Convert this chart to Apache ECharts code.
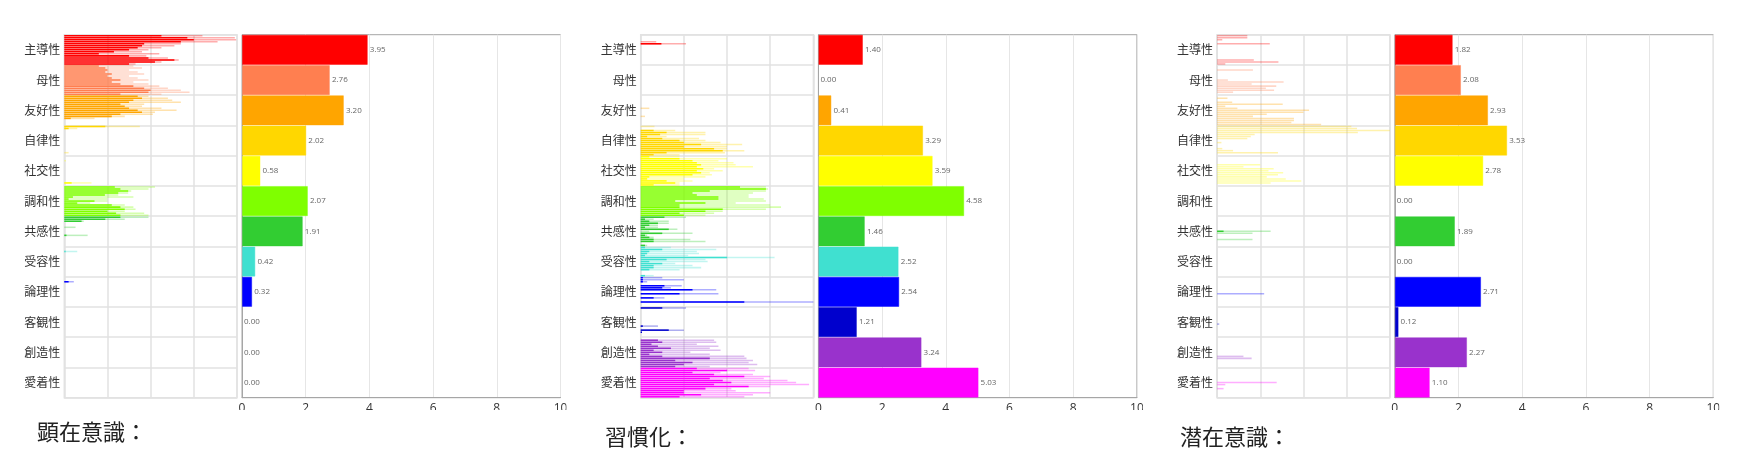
<!DOCTYPE html>
<html>
<head>
<meta charset="utf-8">
<script src="https://cdn.jsdelivr.net/npm/echarts@6/dist/echarts.min.js"></script>
<style>
html,body{margin:0;padding:0;background:#fff;}
#chart{width:1752px;height:461px;}
</style>
</head>
<body>
<div id="chart"></div>
<script>
const categories = ['主導性','母性','友好性','自律性','社交性','調和性','共感性','受容性','論理性','客観性','創造性','愛着性'];
const panelTitles = ['顕在意識：','習慣化：','潜在意識：'];
const catColors = ['#FF0000','#FF7F50','#FFA500','#FFD700','#FFFF00','#7FFF00','#32CD32','#40E0D0','#0000FF','#0000CD','#9932CC','#FF00FF'];

// main bar values per panel
const scores1 = [3.95, 2.76, 3.20, 2.02, 0.58, 2.07, 1.91, 0.42, 0.32, 0.00, 0.00, 0.00];
const scores2 = [1.40, 0.00, 0.41, 3.29, 3.59, 4.58, 1.46, 2.52, 2.54, 1.21, 3.24, 5.03];
const scores3 = [1.82, 2.08, 2.93, 3.53, 2.78, 0.00, 1.89, 0.00, 2.71, 0.12, 2.27, 1.10];

// distribution strips: 15 rows per category, solid and light lengths
const strip1Solid = [
  [2.25,2.85,3.0,2.7,1.85,1.8,1.7,1.5,1.15,0.8,1.5,1.95,2.55,2.1,1.5],
  [0.8,0.95,1.0,0.95,1.1,1.0,1.1,1.3,1.1,1.3,1.6,1.85,2.0,1.95,1.3],
  [1.7,1.8,1.6,1.5,1.3,1.4,1.5,1.7,1.8,1.3,1.1,0.15,0,0,0],
  [0.95,0.1,0,0,0,0,0,0,0,0,0,0,0,0,0],
  [0,0,0,0,0,0,0,0,0,0,0,0,0,0.17,0],
  [1.17,1.3,1.48,1.25,0.94,0.2,0.1,0.7,0.3,1.1,1.3,1.4,1.0,1.2,1.3],
  [1.3,0.95,0.4,0,0,0,0,0,0,0.05,0,0,0,0,0],
  [0,0,0.03,0,0,0,0,0,0,0,0,0,0,0,0],
  [0,0,0.1,0,0,0,0,0,0,0,0,0,0,0,0],
  [0,0,0,0,0,0,0,0,0,0,0,0,0,0,0],
  [0,0,0,0,0,0,0,0,0,0,0,0,0,0,0],
  [0,0,0,0,0,0,0,0,0,0,0,0,0,0,0]
];
const strip1Light = [
  [3.2,3.95,3.98,3.55,2.7,2.55,2.25,1.95,1.8,2.2,1.9,2.4,2.65,2.25,1.65],
  [1.6,1.8,1.5,1.7,1.85,1.5,1.7,1.95,1.6,1.95,2.2,2.4,2.7,2.9,2.25],
  [1.95,2.4,2.5,2.7,1.85,1.8,2.25,2.6,2.1,2.05,1.4,0.7,0,0,0],
  [1.75,0.3,0,0,0,0,0,0,0,0,0,0,0,0.1,0],
  [0,0,0.04,0,0,0,0,0,0,0,0,0,0,0.63,0],
  [2.1,1.95,1.55,1.48,1.25,1.6,1.0,1.0,0.6,1.4,1.6,1.65,1.4,1.85,1.95],
  [1.95,1.4,0.45,0,0,0.26,0,0,0,0.54,0,0,0,0,0],
  [0,0,0.3,0,0,0,0,0,0,0,0,0,0,0,0],
  [0,0,0.22,0,0,0,0,0,0,0,0,0,0,0,0],
  [0,0,0,0,0,0,0,0,0,0,0,0,0,0,0],
  [0,0,0,0,0,0,0,0,0,0,0,0,0,0,0],
  [0,0,0,0,0,0,0,0,0,0,0,0,0,0,0]
];
const strip2Solid = [
  [0,0,0,0,0.48,0,0,0,0,0,0,0,0,0,0],
  [0,0,0,0,0,0,0,0,0,0,0,0,0,0,0],
  [0,0,0,0,0,0,0,0,0,0,0,0,0,0,0],
  [0,0,0.3,0.6,0.45,0.15,0.5,0.9,1.0,1.4,1.0,1.7,1.9,0.6,0.3],
  [0.2,0.9,1.2,1.3,1.4,1.3,1.45,1.3,1.4,1.2,0.2,0.15,0.6,0.8,0.3],
  [2.3,2.9,1.6,1.2,1.3,1.8,1.8,0.8,1.5,0.9,0.9,1.9,1.5,0.9,1.0],
  [0.55,0.1,0.2,0.4,0.2,0.1,0.65,0,0.5,0.1,0.2,0.3,0.3,0,0.1],
  [0.1,0.5,0.2,0.15,0.1,2.0,0.6,0.2,0.5,0.3,0.3,0.2,0,0,0.1],
  [0.05,0.05,0.05,0,0.55,0.5,1.2,0,0.9,0,0.3,0,2.4,0,0],
  [0.5,0,0,0,0,0,0,0,0,0.05,0,0.65,0.03,0,0],
  [0,0.4,0.5,0.25,0.4,0.7,0.3,0.5,0.2,0.5,1.6,0.8,1.2,1.0,0.8],
  [1.3,2.0,1.2,1.7,2.4,1.6,1.9,2.1,1.7,2.5,1.5,1.0,1.0,1.4,0.9]
];
const strip2Light = [
  [0,0,0,0.36,1.05,0,0,0,0,0,0,0,0,0,0],
  [0,0,0,0,0,0,0,0,0,0,0,0,0,0,0],
  [0,0,0,0,0,0,0.2,0,0,0,0.1,0,0,0,0],
  [0.32,0,0.8,1.5,1.5,0.6,1.35,1.5,1.85,2.35,2.0,2.0,2.4,1.95,0.9],
  [0.9,2.0,1.8,2.15,2.2,2.6,1.7,1.9,1.6,1.65,1.5,1.0,1.2,0.9,0.9],
  [2.9,2.95,2.9,2.6,2.5,2.5,2.85,2.9,2.2,3.0,3.25,2.9,1.9,1.7,1.5],
  [1.05,0.3,0.65,0.65,0.4,0.4,0.85,0.2,1.2,0.15,0.3,1.15,1.5,0,0.15],
  [0.7,1.75,1.3,1.35,1.1,3.1,1.5,1.55,0.8,1.2,1.4,0.9,0,0,0.3],
  [0.5,1.0,0.15,0,0.95,0.7,1.75,0,1.8,0,0.55,0,4.0,0,0],
  [1.05,0,0,0,0,0,0,0,0,0.4,0,1.0,0.03,0,0],
  [0,1.7,1.75,1.3,1.8,1.6,1.85,1.15,1.6,2.4,2.45,2.6,2.5,2.7,1.6],
  [2.5,2.65,1.85,2.6,3.0,2.85,3.4,3.6,3.9,3.0,2.1,2.2,3.0,2.6,2.4]
];
const strip3Solid = [
  [0,0,0,0,0,0,0,0,0,0,0,0,0,0,0],
  [0,0,0,0,0,0,0,0,0,0,0,0,0,0,0],
  [0,0,0,0,0,0,0,0,0,0,0,0,0,0,0],
  [0,0,0,0,0,0,0,0,0,0,0,0,0,0,0],
  [0,0,0,0,0,0,0,0,0,0,0,0,0,0,0],
  [0,0,0,0,0,0,0,0,0,0,0,0,0,0,0],
  [0,0,0,0,0,0,0,0.15,0,0,0,0,0,0,0],
  [0,0,0,0,0,0,0,0,0,0,0,0,0,0,0],
  [0,0,0,0,0,0,0,0,0,0,0,0,0,0,0],
  [0,0,0,0,0,0,0,0,0,0,0,0,0,0,0],
  [0,0,0,0,0,0,0,0,0,0,0,0,0,0,0],
  [0,0,0,0,0,0,0,0,0,0,0,0,0,0,0]
];
const strip3Light = [
  [0.7,0.7,0.12,0,1.22,0,0,0,0,0,0,0,0.85,1.42,0.19],
  [0,0,0.83,0,0,0,0,0.25,1.54,0.8,1.37,1.13,1.32,0.37,0],
  [0,0.24,0,0.35,1.52,0.19,0.47,2.13,2.0,1.15,0.83,1.78,1.78,1.72,2.41],
  [3.11,3.24,4.0,3.26,0.87,0.78,0.7,0,0.1,0,0,0.12,0.37,1.41,0],
  [0,0,0,0,1.0,0.61,1.31,1.19,1.53,1.41,1.15,1.59,1.95,1.24,0],
  [0,0,0,0,0,0,0,0,0,0,0,0,0,0,0],
  [0,0,0,0,0,0,0,1.24,0.82,0,0,0.82,0,0,0],
  [0,0,0,0,0,0,0,0,0,0,0,0,0,0,0],
  [0,0,0,0,0,0,0,0,1.09,0,0,0,0,0,0],
  [0,0,0,0,0,0,0,0,0.05,0,0,0,0,0,0],
  [0,0,0,0,0,0,0,0,0,0.61,0.8,0,0,0,0],
  [0,0,0,0,0,0,0,1.38,0.19,0,0.15,0,0,0,0]
];

const panels = [
  {title: panelTitles[0], scores: scores1, solid: strip1Solid, light: strip1Light, titleTop: 416},
  {title: panelTitles[1], scores: scores2, solid: strip2Solid, light: strip2Light, titleTop: 421},
  {title: panelTitles[2], scores: scores3, solid: strip3Solid, light: strip3Light, titleTop: 421}
];
const titleLeft = [32, 600, 1175];

function rgba(hex, a) {
  const n = parseInt(hex.slice(1), 16);
  return 'rgba(' + ((n >> 16) & 255) + ',' + ((n >> 8) & 255) + ',' + (n & 255) + ',' + a + ')';
}

const ROWS = 15;
const rowIds = [];
categories.forEach((c, ci) => { for (let r = 0; r < ROWS; r++) rowIds.push(c + '_' + r); });

const PANEL_DX = 576.4, TOP = 34.7, H = 363;
const MINI_LEFT = 64.3, MINI_W = 172.7, BAR_LEFT = 242, BAR_W = 318.5;

const option = {
  animation: false,
  textStyle: {fontFamily: '"Noto Sans CJK JP", "Noto Sans", sans-serif'},
  title: [], grid: [], xAxis: [], yAxis: [], series: [], graphic: []
};

panels.forEach((p, k) => {
  const dx = k * PANEL_DX;
  option.title.push({
    text: p.title, left: titleLeft[k], top: p.titleTop,
    textStyle: {fontSize: 22, fontWeight: 'normal', color: '#222', fontFamily: '"Noto Sans CJK JP", sans-serif'}
  });
  option.grid.push({left: MINI_LEFT + dx, top: TOP, width: MINI_W, height: H, show: true, borderColor: '#e2e2e2', borderWidth: 1.5});
  option.grid.push({left: BAR_LEFT + dx, top: TOP, width: BAR_W, height: H, show: true, borderColor: '#a6a6a6', borderWidth: 1});

  option.xAxis.push({
    gridIndex: 2 * k, type: 'value', min: 0, max: 4, interval: 1,
    axisLabel: {show: false}, axisLine: {show: false}, axisTick: {show: false},
    splitLine: {show: true, lineStyle: {color: '#e2e2e2', width: 1.5}}
  });
  option.xAxis.push({
    gridIndex: 2 * k + 1, type: 'value', min: 0, max: 10, interval: 2,
    axisLine: {show: true, lineStyle: {color: '#a6a6a6'}}, axisTick: {show: false},
    axisLabel: {fontSize: 12, color: '#333', margin: 5, fontFamily: '"Open Sans", sans-serif'},
    splitLine: {show: true, lineStyle: {color: '#e6e6e6'}}
  });

  option.yAxis.push({
    gridIndex: 2 * k, type: 'category', data: categories, inverse: true,
    axisLine: {show: false}, axisTick: {show: false},
    axisLabel: {fontSize: 12, color: '#333', margin: 4, interval: 0},
    splitLine: {show: true, interval: 0, lineStyle: {color: '#e2e2e2', width: 1.5}}
  });
  option.yAxis.push({gridIndex: 2 * k, type: 'category', data: rowIds, inverse: true, show: false});
  option.yAxis.push({
    gridIndex: 2 * k + 1, type: 'category', data: categories, inverse: true,
    axisLabel: {show: false}, axisTick: {show: false},
    axisLine: {show: true, lineStyle: {color: '#a6a6a6'}}, splitLine: {show: false}
  });

  const lightData = [], solidData = [];
  categories.forEach((c, ci) => {
    for (let r = 0; r < ROWS; r++) {
      lightData.push({value: p.light[ci][r], itemStyle: {color: rgba(catColors[ci], 0.32)}});
      solidData.push({value: p.solid[ci][r], itemStyle: {color: catColors[ci]}});
    }
  });
  option.series.push({
    type: 'bar', xAxisIndex: 2 * k, yAxisIndex: 3 * k + 1, data: lightData,
    barCategoryGap: '25%', barGap: '-100%', silent: true, z: 2
  });
  option.series.push({
    type: 'bar', xAxisIndex: 2 * k, yAxisIndex: 3 * k + 1, data: solidData,
    barCategoryGap: '25%', barGap: '-100%', silent: true, z: 3
  });
  option.series.push({
    type: 'bar', xAxisIndex: 2 * k + 1, yAxisIndex: 3 * k + 2,
    barCategoryGap: '0%', silent: true,
    data: p.scores.map((v, i) => ({value: v, itemStyle: {color: catColors[i],
      borderColor: v > 0 ? rgba(catColors[i], 0.45) : 'transparent', borderWidth: v > 0 ? 1 : 0}})),
    label: {show: true, position: 'right', distance: 2, fontSize: 8, color: '#666',
      fontFamily: '"Open Sans", sans-serif', formatter: (q) => q.value.toFixed(2)}
  });

  // clip of the axis tick labels as in the reference image
  option.graphic.push({type: 'rect', silent: true, z: 100,
    shape: {x: BAR_LEFT + dx - 10, y: 410, width: BAR_W + 30, height: 7}, style: {fill: '#fff'}});
  option.graphic.push({type: 'rect', silent: true, z: 100,
    shape: {x: BAR_LEFT + dx + BAR_W + 6, y: 399.5, width: 12, height: 12}, style: {fill: '#fff'}});
});

const chart = echarts.init(document.getElementById('chart'), null, {renderer: 'canvas'});
chart.setOption(option);
</script>
</body>
</html>
